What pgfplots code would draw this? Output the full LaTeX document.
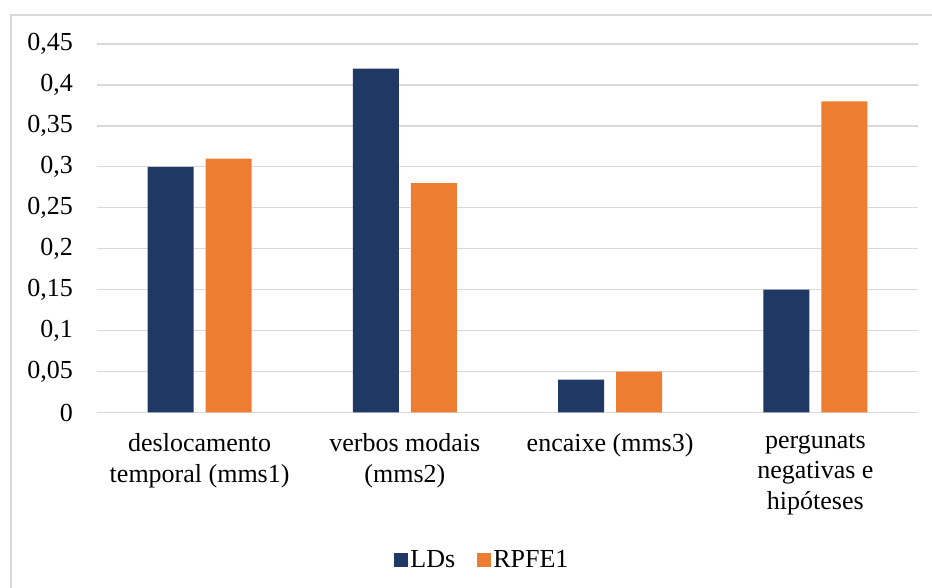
\documentclass[border=0pt]{standalone}
\usepackage{pgfplots}
\pgfplotsset{compat=1.18}
\usepackage{fontspec}
\setmainfont{LiberationSerif}[Extension=.ttf, UprightFont=*-Regular, BoldFont=*-Bold, ItalicFont=*-Italic, BoldItalicFont=*-BoldItalic]
\definecolor{ldsblue}{HTML}{203864}
\definecolor{rpfeorange}{HTML}{ED7D31}
\definecolor{gridgray}{HTML}{D9D9D9}
\newcommand{\chartfont}{\fontsize{26}{30.5}\selectfont}
\begin{document}
\begin{tikzpicture}[x=1pt,y=1pt]
\useasboundingbox (0,0) rectangle (932,588);
% chart frame
\draw[gridgray, line width=1.5pt] (11,-20) rectangle (960,573);
\begin{axis}[
  at={(97pt,175.5pt)}, anchor=south west,
  scale only axis, width=821pt, height=368.5pt,
  xmin=-0.5, xmax=3.5, ymin=0, ymax=0.45,
  ytick={0,0.05,...,0.451},
  xtick={0,1,2,3},
  xticklabels={{deslocamento\\temporal (mms1)},{verbos modais\\(mms2)},{encaixe (mms3)},{pergunats\\negativas e\\hipóteses}},
  axis line style={draw=none},
  major tick length=0pt,
  ymajorgrids, grid style={gridgray, line width=1.3pt},
  /pgf/number format/assume math mode=true,
  /pgf/number format/use comma,
  /pgf/number format/fixed,
  /pgf/number format/precision=2,
  yticklabel style={font=\chartfont, anchor=east, inner sep=0pt, xshift=-24pt},
  xticklabel style={font=\chartfont, anchor=north, align=center, inner sep=0pt, yshift=-21pt},
  ybar, bar width=46pt,
  legend style={at={(0.4695,-0.40)}, anchor=center, draw=none, fill=none,
    font=\chartfont, legend columns=2,
    /tikz/every even column/.append style={column sep=20pt}},
  legend image code/.code={\fill[#1, draw=none] (0pt,-7pt) rectangle (14pt,7pt);},
  extra y ticks={0}, extra y tick labels={},
  extra y tick style={grid style={gridgray, line width=1.5pt}},
]
\addplot[fill=ldsblue, draw=none, bar shift=-29pt] coordinates {(0,0.30) (1,0.42) (2,0.04) (3,0.15)};
\addplot[fill=rpfeorange, draw=none, bar shift=29pt] coordinates {(0,0.31) (1,0.28) (2,0.05) (3,0.38)};
\legend{LDs, RPFE1}
\end{axis}
\end{tikzpicture}
\end{document}
